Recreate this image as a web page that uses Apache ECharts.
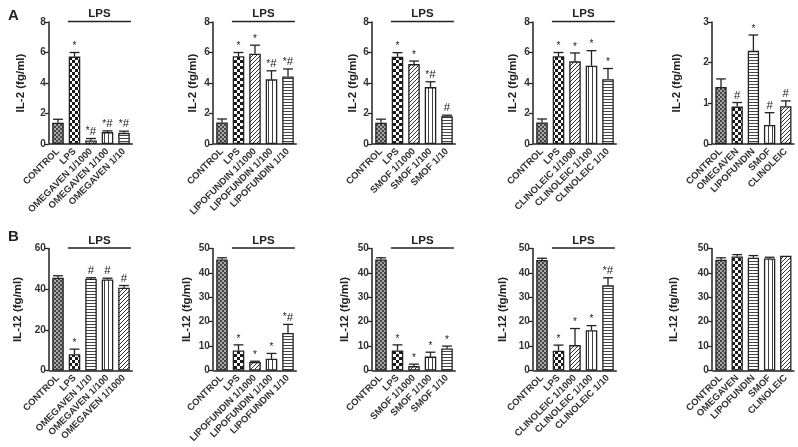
<!DOCTYPE html>
<html><head><meta charset="utf-8">
<script src="https://cdn.jsdelivr.net/npm/echarts@6/dist/echarts.min.js"></script>
<style>html,body{margin:0;padding:0;background:#fff}#c{width:798px;height:447px}</style>
</head><body><div id="c"></div>
<script>
// ---------- DATA ----------
const catsA1 = ['CONTROL','LPS','OMEGAVEN 1/1000','OMEGAVEN 1/100','OMEGAVEN 1/10'];
const valsA1 = [1.40, 5.73, 0.23, 0.78, 0.73];
const errA1  = [1.62, 6.00, 0.36, 0.86, 0.84];
const sigA1  = ['', '*', '*#', '*#', '*#'];

const catsA2 = ['CONTROL','LPS','LIPOFUNDIN 1/1000','LIPOFUNDIN 1/100','LIPOFUNDIN 1/10'];
const valsA2 = [1.41, 5.75, 5.92, 4.24, 4.43];
const errA2  = [1.64, 6.00, 6.48, 4.80, 4.92];
const sigA2  = ['', '*', '*', '*#', '*#'];

const catsA3 = ['CONTROL','LPS','SMOF 1/1000','SMOF 1/100','SMOF 1/10'];
const valsA3 = [1.40, 5.72, 5.24, 3.73, 1.82];
const errA3  = [1.63, 5.99, 5.44, 4.08, 1.89];
const sigA3  = ['', '*', '*', '*#', '#'];

const catsA4 = ['CONTROL','LPS','CLINOLEIC 1/1000','CLINOLEIC 1/100','CLINOLEIC 1/10'];
const valsA4 = [1.41, 5.75, 5.42, 5.13, 4.25];
const errA4  = [1.64, 6.00, 5.97, 6.12, 4.95];
const sigA4  = ['', '*', '*', '*', '*'];

const catsA5 = ['CONTROL','OMEGAVEN','LIPOFUNDIN','SMOF','CLINOLEIC'];
const valsA5 = [1.40, 0.92, 2.29, 0.47, 0.93];
const errA5  = [1.60, 1.02, 2.68, 0.77, 1.06];
const sigA5  = ['', '#', '*', '#', '#'];

const catsB1 = ['CONTROL','LPS','OMEGAVEN 1/10','OMEGAVEN 1/100','OMEGAVEN 1/1000'];
const valsB1 = [45.6, 8.0, 45.1, 44.8, 40.7];
const errB1  = [46.6, 10.5, 45.6, 45.4, 41.8];
const sigB1  = ['', '*', '#', '#', '#'];

const catsB2 = ['CONTROL','LPS','LIPOFUNDIN 1/1000','LIPOFUNDIN 1/100','LIPOFUNDIN 1/10'];
const valsB2 = [45.5, 8.2, 3.5, 4.8, 15.4];
const errB2  = [46.2, 10.5, 3.8, 7.0, 18.9];
const sigB2  = ['', '*', '*', '*', '*#'];

const catsB3 = ['CONTROL','LPS','SMOF 1/1000','SMOF 1/100','SMOF 1/10'];
const valsB3 = [45.5, 8.2, 1.8, 5.7, 9.0];
const errB3  = [46.2, 10.5, 2.6, 7.5, 10.0];
const sigB3  = ['', '*', '*', '*', '*'];

const catsB4 = ['CONTROL','LPS','CLINOLEIC 1/1000','CLINOLEIC 1/100','CLINOLEIC 1/10'];
const valsB4 = [45.3, 8.1, 10.4, 16.5, 34.9];
const errB4  = [46.0, 10.4, 17.2, 18.4, 38.0];
const sigB4  = ['', '*', '*', '*', '*#'];

const catsB5 = ['CONTROL','OMEGAVEN','LIPOFUNDIN','SMOF','CLINOLEIC'];
const valsB5 = [45.4, 46.7, 46.2, 45.9, 47.0];
const errB5  = [46.2, 47.5, 47.1, 46.4, 47.0];
const sigB5  = ['', '', '', '', ''];

const yMaxes   = [8, 8, 8, 8, 3, 60, 50, 50, 50, 50];
const ySteps   = [2, 2, 2, 2, 1, 20, 10, 10, 10, 10];
const yNames   = ['IL-2 (fg/ml)','IL-2 (fg/ml)','IL-2 (fg/ml)','IL-2 (fg/ml)','IL-2 (fg/ml)',
                  'IL-12 (fg/ml)','IL-12 (fg/ml)','IL-12 (fg/ml)','IL-12 (fg/ml)','IL-12 (fg/ml)'];
const lpsGroup = [true, true, true, true, false, true, true, true, true, false];
const bracketLabel = 'LPS';
const panelLetters = ['A', 'B'];

// ---------- LAYOUT / STYLE ----------
const panels = [
  [catsA1, valsA1, errA1, sigA1], [catsA2, valsA2, errA2, sigA2], [catsA3, valsA3, errA3, sigA3],
  [catsA4, valsA4, errA4, sigA4], [catsA5, valsA5, errA5, sigA5],
  [catsB1, valsB1, errB1, sigB1], [catsB2, valsB2, errB2, sigB2], [catsB3, valsB3, errB3, sigB3],
  [catsB4, valsB4, errB4, sigB4], [catsB5, valsB5, errB5, sigB5]
];
const colLeft  = [49.75, 213.75, 372.75, 533.75, 712.9];
const colWidth = [82.5, 82.5, 82.5, 82.5, 81];
const rowTop   = [22, 248.5];
const rowH     = 122;
const nameGaps = [22, 14, 11, 14, 29, 25, 20, 21, 24, 32];
const FONT = '"Liberation Sans", Arial, sans-serif';
const INK = '#222';

function makePattern(type){
  const c = document.createElement('canvas');
  let ctx;
  if (type === 'control') {
    c.width = 4; c.height = 4; ctx = c.getContext('2d');
    ctx.fillStyle = '#a8a8a8'; ctx.fillRect(0,0,4,4);
    ctx.fillStyle = '#454545'; ctx.fillRect(0,0,2,2); ctx.fillRect(2,2,2,2);
  } else if (type === 'lps') {
    c.width = 6; c.height = 6; ctx = c.getContext('2d');
    ctx.fillStyle = '#fff'; ctx.fillRect(0,0,6,6);
    ctx.fillStyle = '#1a1a1a'; ctx.fillRect(0,0,3,3); ctx.fillRect(3,3,3,3);
  } else if (type === 'diag') {
    c.width = 4; c.height = 4; ctx = c.getContext('2d');
    ctx.fillStyle = '#fff'; ctx.fillRect(0,0,4,4);
    ctx.strokeStyle = '#333'; ctx.lineWidth = 1;
    ctx.beginPath();
    ctx.moveTo(0,4); ctx.lineTo(4,0);
    ctx.moveTo(-1,1); ctx.lineTo(1,-1);
    ctx.moveTo(3,5); ctx.lineTo(5,3);
    ctx.stroke();
  } else if (type === 'vert') {
    c.width = 4; c.height = 4; ctx = c.getContext('2d');
    ctx.fillStyle = '#fff'; ctx.fillRect(0,0,4,4);
    ctx.fillStyle = '#444'; ctx.fillRect(0,0,1,4);
  } else {
    c.width = 4; c.height = 3; ctx = c.getContext('2d');
    ctx.fillStyle = '#fff'; ctx.fillRect(0,0,4,3);
    ctx.fillStyle = '#444'; ctx.fillRect(0,0,4,1);
  }
  return { image: c, repeat: 'repeat' };
}
const PAT = {control: makePattern('control'), lps: makePattern('lps'), diag: makePattern('diag'),
             vert: makePattern('vert'), horiz: makePattern('horiz')};
function patternFor(label){
  if (label === 'CONTROL') return PAT.control;
  if (label === 'LPS' || label === 'OMEGAVEN') return PAT.lps;
  if (/1\/1000$/.test(label) || label === 'CLINOLEIC') return PAT.diag;
  if (/1\/100$/.test(label) || label === 'SMOF') return PAT.vert;
  return PAT.horiz;
}

const grids = [], xAxes = [], yAxes = [], series = [];
panels.forEach((p, i) => {
  const [cats, vals, errs, sigs] = p;
  const row = Math.floor(i / 5), col = i % 5;
  grids.push({ left: colLeft[col], top: rowTop[row], width: colWidth[col], height: rowH });
  xAxes.push({
    type: 'category', gridIndex: i, data: cats,
    axisLine: { lineStyle: { color: INK, width: 1.5 } },
    axisTick: { alignWithLabel: true, length: 3, lineStyle: { color: INK, width: 1.3 } },
    axisLabel: { interval: 0, rotate: 45, fontSize: 9.5, fontWeight: 'bold', color: '#333', margin: 6, fontFamily: FONT }
  });
  yAxes.push({
    type: 'value', gridIndex: i, min: 0, max: yMaxes[i], interval: ySteps[i], offset: 1,
    name: yNames[i], nameLocation: 'middle', nameRotate: 90, nameGap: nameGaps[i],
    nameTextStyle: { fontSize: 11.5, fontWeight: 'bold', color: INK, fontFamily: FONT },
    axisLine: { show: true, lineStyle: { color: INK, width: 1.5 } },
    axisTick: { show: true, length: 4, lineStyle: { color: INK, width: 1.3 } },
    axisLabel: { fontSize: 10, fontWeight: 'bold', color: '#333', margin: 3, fontFamily: FONT },
    splitLine: { show: false }
  });
  series.push({
    type: 'bar', xAxisIndex: i, yAxisIndex: i, barWidth: '70%', silent: true, animation: false,
    itemStyle: { borderColor: INK, borderWidth: 1.3 },
    data: vals.map((v, k) => ({ value: v, itemStyle: { color: patternFor(cats[k]) } }))
  });
  series.push({
    type: 'custom', xAxisIndex: i, yAxisIndex: i, silent: true, animation: false, z: 5,
    data: vals.map((v, k) => [k, v, errs[k]]),
    renderItem: function (params, api) {
      const k = api.value(0), v = api.value(1), t = api.value(2);
      const base = api.coord([k, v]), top = api.coord([k, t]);
      const bw = api.size([1, 0])[0];
      const cap = bw * 0.3;
      const children = [];
      if (t > v) {
        children.push({ type: 'line', shape: { x1: base[0], y1: base[1], x2: top[0], y2: top[1] },
          style: { stroke: INK, lineWidth: 1.3 } });
        children.push({ type: 'line', shape: { x1: top[0] - cap, y1: top[1], x2: top[0] + cap, y2: top[1] },
          style: { stroke: INK, lineWidth: 1.3 } });
      }
      const s = sigs[params.dataIndex];
      if (s) {
        const txt = s.split('').map(ch => ch === '*' ? '{a|*}' : '{b|#}').join('');
        children.push({ type: 'text', x: top[0], y: top[1] - 1,
          style: { text: txt, align: 'center', verticalAlign: 'bottom', fill: INK,
            rich: { a: { fontSize: 10, fontFamily: FONT, fill: INK },
                    b: { fontSize: 11.5, fontFamily: FONT, fill: INK } } } });
      }
      return { type: 'group', children: children };
    }
  });
  if (lpsGroup[i]) {
    series.push({
      type: 'custom', xAxisIndex: i, yAxisIndex: i, silent: true, animation: false, z: 5,
      data: [[1, cats.length - 1, yMaxes[i]]],
      encode: { x: 0, y: 2 },
      renderItem: function (params, api) {
        const p1 = api.coord([api.value(0), api.value(2)]);
        const p2 = api.coord([api.value(1), api.value(2)]);
        const bw = api.size([1, 0])[0];
        const x1 = p1[0] - bw * 0.4, x2 = p2[0] + bw * 0.42, y = p1[1] - 0.5;
        return { type: 'group', children: [
          { type: 'line', shape: { x1: x1, y1: y, x2: x2, y2: y }, style: { stroke: INK, lineWidth: 1.5 } },
          { type: 'text', x: (x1 + x2) / 2, y: y - 1.5,
            style: { text: bracketLabel, align: 'center', verticalAlign: 'bottom', fill: INK,
              fontSize: 11.5, fontWeight: 'bold', fontFamily: FONT } }
        ] };
      }
    });
  }
});

const chart = echarts.init(document.getElementById('c'), null, { renderer: 'canvas' });
chart.setOption({
  backgroundColor: '#fff',
  animation: false,
  title: [
    { text: panelLetters[0], left: 3, top: 3, textStyle: { fontSize: 15, fontWeight: 'bold', color: INK, fontFamily: FONT } },
    { text: panelLetters[1], left: 3, top: 224, textStyle: { fontSize: 15, fontWeight: 'bold', color: INK, fontFamily: FONT } }
  ],
  grid: grids, xAxis: xAxes, yAxis: yAxes, series: series
});
</script></body></html>
